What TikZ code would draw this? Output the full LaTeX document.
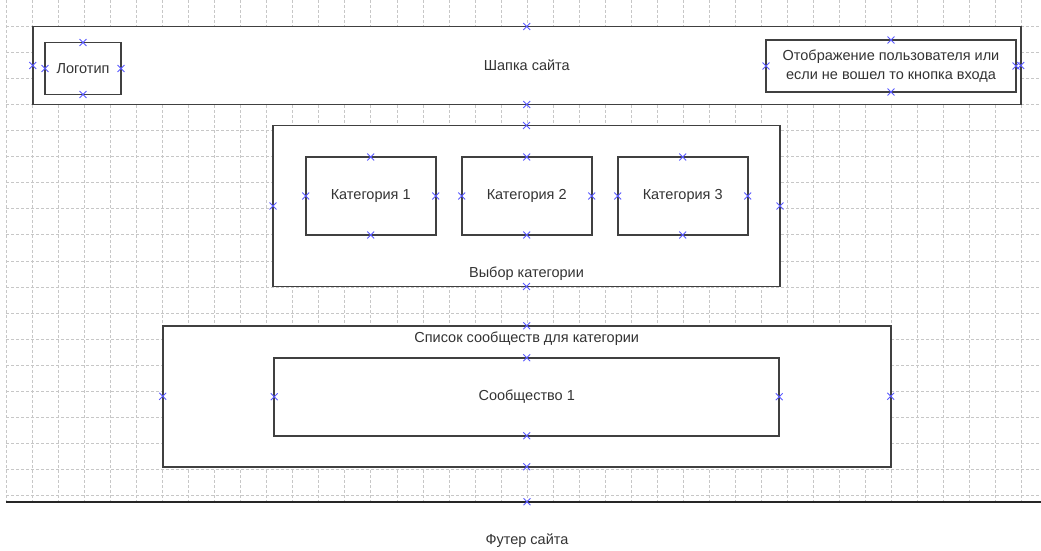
\documentclass[tikz,border=0pt]{standalone}
\usepackage{fontspec}
\setmainfont{Liberation Sans}
\usetikzlibrary{positioning, shapes.misc}

\newcommand{\pinpoints}[2][north,south,east,west]{%
    \foreach \a in {#1} \node[xmark] at (#2.\a) {};}

\begin{document}
\begin{tikzpicture}[
    x=1pt, y=-1pt,
    node distance=26pt,
    gridline/.style={draw=black!22, line width=0.9pt, dash pattern=on 3pt off 2pt},
    frame/.style={draw=black!75, line width=1.6pt, fill=white, inner sep=0pt, outer sep=0pt, text=black!80, font=\fontsize{14.5}{19}\selectfont, align=center},
    cat/.style={frame, minimum width=130pt, minimum height=78pt},
    caption/.style={text=black!80, inner sep=0pt, font=\fontsize{14.5}{19}\selectfont},
    xmark/.style={cross out, draw=blue!65, line width=0.9pt, minimum size=6pt, inner sep=0pt}
]
    \fill[white] (0,0) rectangle (1041,551);
    \useasboundingbox (0,0) rectangle (1041,551);

    % background grid
    \foreach \i in {0,...,39}
        \draw[gridline] (6.5+26.03*\i,0) -- (6.5+26.03*\i,503);
    \foreach \j in {1,...,19}
        \draw[gridline] (6,26.1*\j) -- (1041,26.1*\j);

    \node[frame, minimum width=988pt, minimum height=78pt] (header) at (526.75,65.5) {Шапка сайта};
    \node[frame, minimum width=76pt, minimum height=52pt] (logo) at (83,68.5) {Логотип};
    \node[frame, minimum width=250pt, minimum height=52pt] (user) at (891,66) {Отображение пользователя или\\если не вошел то кнопка входа};

    \node[frame, minimum width=507pt, minimum height=161pt] (cats) at (526.5,206) {};
    \node[cat] (cat2) at (526.7,196) {Категория 2};
    \node[cat, left=of cat2] (cat1) {Категория 1};
    \node[cat, right=of cat2] (cat3) {Категория 3};
    \node[caption, above=6pt of cats.south] (catstitle) {Выбор категории};

    \node[frame, minimum width=728pt, minimum height=141pt] (list) at (526.7,396.3) {};
    \node[caption, below=6pt of list.north] (listtitle) {Список сообществ для категории};
    \node[frame, minimum width=505pt, minimum height=78pt] (comm1) at (526.7,396.7) {Сообщество 1};

    \node[caption, minimum width=1042pt, minimum height=78pt] (footer) at (527,541) {Футер сайта};
    \draw[black!85, line width=1.6pt] (footer.north west) -- (footer.north east);

    % connection points
    \pinpoints{header}
    \pinpoints{logo}
    \pinpoints{user}
    \pinpoints{cats}
    \pinpoints{cat1}
    \pinpoints{cat2}
    \pinpoints{cat3}
    \pinpoints{list}
    \pinpoints{comm1}
    \pinpoints[north]{footer}
\end{tikzpicture}
\end{document}
